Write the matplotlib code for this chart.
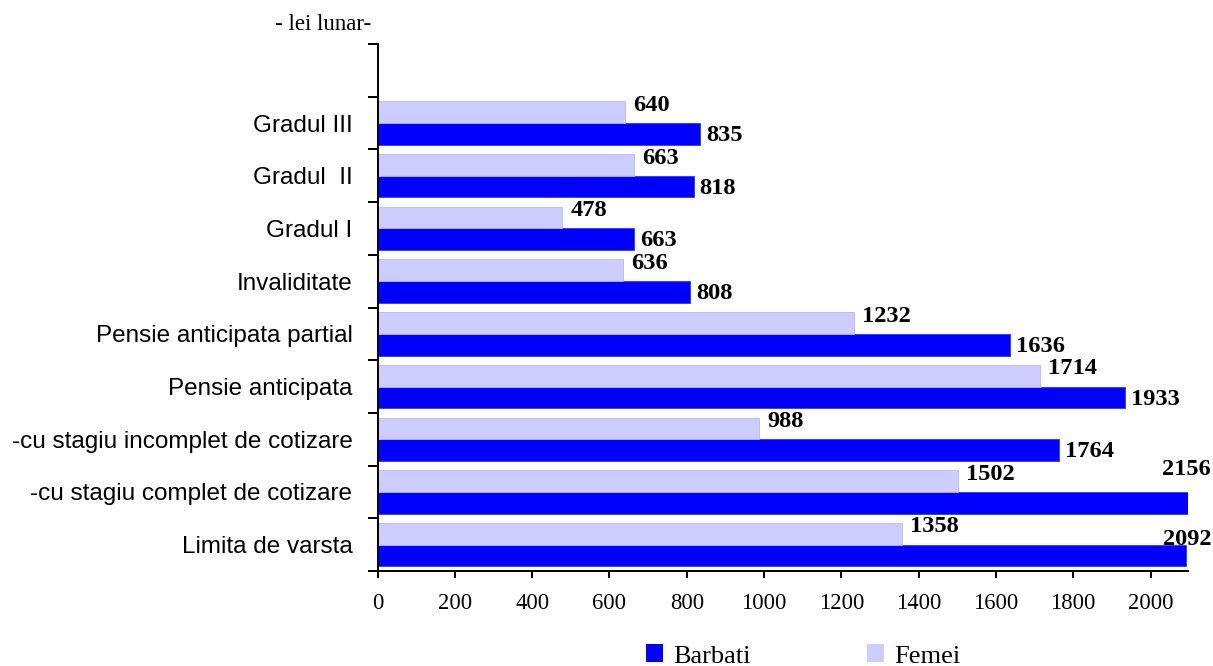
import matplotlib
matplotlib.use("Agg")
import matplotlib.pyplot as plt
import matplotlib.transforms as mtransforms
from matplotlib.patches import Patch
import numpy as np

categories = ["Limita de varsta",
              "-cu stagiu complet de cotizare",
              "-cu stagiu incomplet de cotizare",
              "Pensie anticipata",
              "Pensie anticipata partial",
              "Invaliditate",
              "Gradul I",
              "Gradul  II",
              "Gradul III"]
barbati = [2092, 2156, 1764, 1933, 1636, 808, 663, 818, 835]
femei = [1358, 1502, 988, 1714, 1232, 636, 478, 663, 640]
xticks = [0, 200, 400, 600, 800, 1000, 1200, 1400, 1600, 1800, 2000]

C_BARBATI = "#0000FF"
C_FEMEI = "#CCCCFF"
SERIF = "Liberation Serif"
SANS = "Liberation Sans"

fig = plt.figure(figsize=(12.13, 6.66), dpi=100)
ax = fig.add_axes([377.5 / 1213, (666 - 571) / 666, (1188 - 377.5) / 1213, (571 - 44) / 666])

n = len(categories)
y = np.arange(n)
h = 0.4125
ax.barh(y - h / 2, barbati, height=h, color=C_BARBATI, edgecolor="#3333ff", linewidth=0.6, zorder=2)
ax.barh(y + h / 2, femei, height=h, color=C_FEMEI, edgecolor="#b8b8f0", linewidth=0.6, zorder=2)

ax.set_xlim(0, 2097)
ax.set_ylim(-0.5, n + 0.5)

# axes styling
for s in ["top", "right"]:
    ax.spines[s].set_visible(False)
for s in ["left", "bottom"]:
    ax.spines[s].set_linewidth(1.4)

ax.set_xticks(xticks)
ax.set_xticklabels([str(v) for v in xticks], fontfamily=SERIF, fontsize=16.3)
ax.tick_params(axis="x", direction="out", length=5, width=1.4, pad=11)

ax.set_yticks(np.arange(-0.5, n + 1, 1.0))
ax.set_yticklabels([])
ax.tick_params(axis="y", which="major", direction="out", length=7, width=1.4)
ax.set_yticks(y, minor=True)
ax.set_yticklabels(categories, minor=True, fontfamily=SANS, fontsize=17.5)
ax.tick_params(axis="y", which="minor", length=0, pad=18)

# data labels
px = 2097 / (1188 - 377.5)  # data units per pixel
blend = mtransforms.blended_transform_factory(fig.transFigure, ax.transData)
overflow_dy = {1: 0.64, 0: 0.30}
lab_kw = dict(fontfamily=SERIF, fontweight="bold", fontsize=17.6, va="center")
for i in range(n):
    ax.text(femei[i] + 8 * px, y[i] + h / 2 + 0.13, str(femei[i]), ha="left", **lab_kw)
    if i in overflow_dy:
        ax.text(0.9985, y[i] - h / 2 + overflow_dy[i], str(barbati[i]), ha="right",
                transform=blend, **lab_kw)
    else:
        ax.text(barbati[i] + 6 * px, y[i] - h / 2 - 0.03, str(barbati[i]), ha="left", **lab_kw)

fig.text(323 / 1213, 1 - 25 / 666, "- lei lunar-", fontfamily=SERIF, fontsize=16.5,
         ha="center", va="center")

handles = [Patch(facecolor=C_BARBATI, edgecolor="none", label="Barbati"),
           Patch(facecolor=C_FEMEI, edgecolor="none", label="Femei")]
fig.legend(handles=handles, loc="center", bbox_to_anchor=(803 / 1213, 1 - 656 / 666),
           ncol=2, frameon=False, prop={"family": SERIF, "size": 19},
           handlelength=0.65, handleheight=0.65, handletextpad=0.38, columnspacing=4.4)

fig.savefig("out.png", dpi=100)
